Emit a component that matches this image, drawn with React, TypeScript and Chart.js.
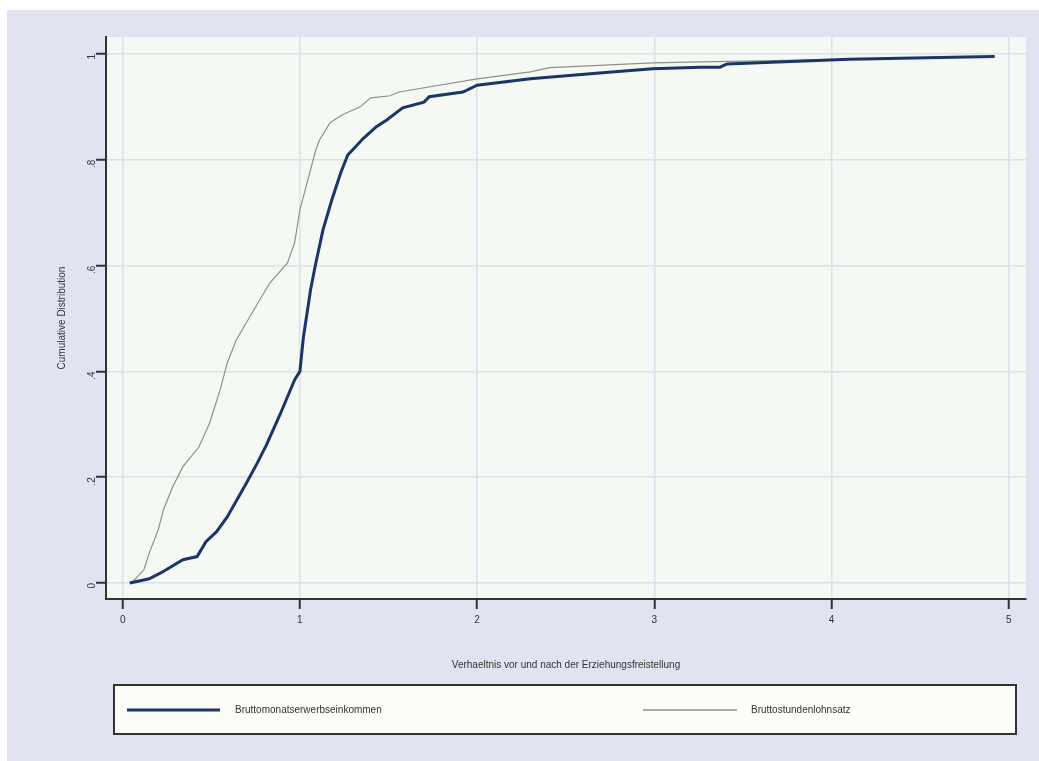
import React, { useEffect, useRef } from "react";
import { Chart, registerables } from "chart.js";

Chart.register(...registerables);

const seriesLabels = ["Bruttomonatserwerbseinkommen", "Bruttostundenlohnsatz"];

const monatX = [0.04, 0.15, 0.22, 0.34, 0.42, 0.47, 0.53, 0.59, 0.7, 0.76, 0.81, 0.89, 0.97, 1.0, 1.02, 1.06, 1.09, 1.13, 1.18, 1.23, 1.27, 1.36, 1.43, 1.49, 1.58, 1.7, 1.73, 1.92, 2.0, 2.3, 2.69, 2.99, 3.26, 3.37, 3.41, 4.1, 4.76, 4.92];
const monatY = [0, 0.008, 0.02, 0.044, 0.05, 0.078, 0.097, 0.125, 0.19, 0.227, 0.26, 0.32, 0.384, 0.4, 0.465, 0.554, 0.605, 0.667, 0.724, 0.775, 0.809, 0.841, 0.862, 0.875, 0.898, 0.909, 0.919, 0.928, 0.941, 0.953, 0.964, 0.972, 0.975, 0.975, 0.981, 0.99, 0.994, 0.995];

const stundeX = [0.05, 0.12, 0.15, 0.2, 0.23, 0.28, 0.34, 0.43, 0.49, 0.55, 0.59, 0.64, 0.74, 0.83, 0.93, 0.97, 1.0, 1.04, 1.09, 1.11, 1.17, 1.24, 1.34, 1.4, 1.51, 1.56, 2.0, 2.3, 2.41, 2.99, 3.26, 3.6, 4.1, 4.92];
const stundeY = [0, 0.025, 0.057, 0.1, 0.138, 0.18, 0.22, 0.257, 0.302, 0.365, 0.416, 0.459, 0.516, 0.567, 0.605, 0.643, 0.705, 0.756, 0.819, 0.837, 0.87, 0.885, 0.9, 0.917, 0.921, 0.928, 0.953, 0.966, 0.974, 0.983, 0.985, 0.987, 0.99, 0.995];

const xTicks = [0, 1, 2, 3, 4, 5];
const yTicks = [0, 0.2, 0.4, 0.6, 0.8, 1];
const yTickLabels = ["0", ".2", ".4", ".6", ".8", "1"];

const xTitle = "Verhaeltnis vor und nach der Erziehungsfreistellung";
const yTitle = "Cumulative Distribution";

const FONT = "'Liberation Sans', Arial, sans-serif";
const NAVY = "#1b3566";
const GREY = "#8d918a";
const GREY_LEGEND = "#a9ada6";
const TEXT = "#333333";

const bgPlugin = {
  id: "stataBg",
  beforeDraw(chart: any) {
    const { ctx, chartArea } = chart;
    ctx.save();
    ctx.fillStyle = "#ffffff";
    ctx.fillRect(0, 0, chart.width, chart.height);
    ctx.fillStyle = "#e1e4f0";
    ctx.fillRect(7, 10, chart.width - 7, chart.height - 10);
    ctx.fillStyle = "#f5f9f4";
    ctx.fillRect(chartArea.left, chartArea.top, chartArea.right - chartArea.left, chartArea.bottom - chartArea.top);
    ctx.restore();
  },
  afterDraw(chart: any) {
    const { ctx } = chart;
    const ds = chart.data.datasets;
    ctx.save();
    // legend box
    const bx = 114, by = 685, bw = 902, bh = 49;
    ctx.fillStyle = "#fbfdf8";
    ctx.fillRect(bx, by, bw, bh);
    ctx.strokeStyle = "#333333";
    ctx.lineWidth = 2;
    ctx.strokeRect(bx, by, bw, bh);
    const cy = by + bh / 2 + 0.5;
    const items = [
      { x1: 127, x2: 220, tx: 235, color: NAVY, w: 3, label: ds[0].label },
      { x1: 643, x2: 737, tx: 751, color: GREY_LEGEND, w: 2, label: ds[1].label },
    ];
    ctx.font = `10px ${FONT}`;
    ctx.textBaseline = "middle";
    ctx.textAlign = "left";
    for (const it of items) {
      ctx.strokeStyle = it.color;
      ctx.lineWidth = it.w;
      ctx.beginPath();
      ctx.moveTo(it.x1, cy);
      ctx.lineTo(it.x2, cy);
      ctx.stroke();
      ctx.fillStyle = TEXT;
      ctx.fillText(it.label, it.tx, cy);
    }
    ctx.restore();
  },
};

export default function App() {
  const ref = useRef<HTMLCanvasElement | null>(null);

  useEffect(() => {
    if (!ref.current) return;
    const chart = new Chart(ref.current, {
      type: "line",
      data: {
        datasets: [
          {
            label: seriesLabels[0],
            data: monatX.map((x, i) => ({ x, y: monatY[i] })),
            borderColor: NAVY,
            borderWidth: 3,
            pointRadius: 0,
            tension: 0,
            fill: false,
          },
          {
            label: seriesLabels[1],
            data: stundeX.map((x, i) => ({ x, y: stundeY[i] })),
            borderColor: GREY,
            borderWidth: 1.2,
            pointRadius: 0,
            tension: 0,
            fill: false,
          },
        ],
      },
      options: {
        animation: false,
        responsive: false,
        maintainAspectRatio: false,
        layout: { padding: { left: 56, top: 37, right: 13, bottom: 90 } },
        plugins: { legend: { display: false }, tooltip: { enabled: false } },
        scales: {
          x: {
            type: "linear",
            min: -0.094,
            max: 5.097,
            afterBuildTicks: (s: any) => {
              s.ticks = xTicks.map((v) => ({ value: v }));
            },
            afterFit: (s: any) => {
              s.height = 72;
            },
            ticks: {
              color: TEXT,
              font: { family: FONT, size: 10 },
              padding: 5,
              maxRotation: 0,
              minRotation: 0,
              callback: (v: any) => String(v),
            },
            grid: {
              color: "#dde0ea",
              lineWidth: 1.5,
              tickColor: "#333333",
              tickWidth: 2,
              tickLength: 10,
            },
            border: { color: "#333333", width: 2 },
            title: {
              display: true,
              text: xTitle,
              color: TEXT,
              font: { family: FONT, size: 10 },
              padding: 0,
            },
          },
          y: {
            type: "linear",
            min: -0.0302,
            max: 1.032,
            afterBuildTicks: (s: any) => {
              s.ticks = yTicks.map((v) => ({ value: v }));
            },
            afterFit: (s: any) => {
              s.width = 50;
            },
            ticks: {
              color: TEXT,
              font: { family: FONT, size: 10 },
              padding: 4,
              minRotation: 90,
              maxRotation: 90,
              callback: (v: any) => {
                const i = yTicks.findIndex((t) => Math.abs(t - v) < 1e-9);
                return i >= 0 ? yTickLabels[i] : "";
              },
            },
            grid: {
              color: "#dde0ea",
              lineWidth: 1.5,
              tickColor: "#333333",
              tickWidth: 2,
              tickLength: 10,
            },
            border: { color: "#333333", width: 2 },
            title: {
              display: true,
              text: yTitle,
              color: TEXT,
              font: { family: FONT, size: 10 },
              padding: 0,
            },
          },
        },
      },
      plugins: [bgPlugin],
    } as any);
    return () => chart.destroy();
  }, []);

  return (
    <div style={{ position: "absolute", left: 0, top: 0, width: 1039, height: 761 }}>
      <canvas ref={ref} width={1039} height={761} style={{ display: "block", width: 1039, height: 761 }} />
    </div>
  );
}
